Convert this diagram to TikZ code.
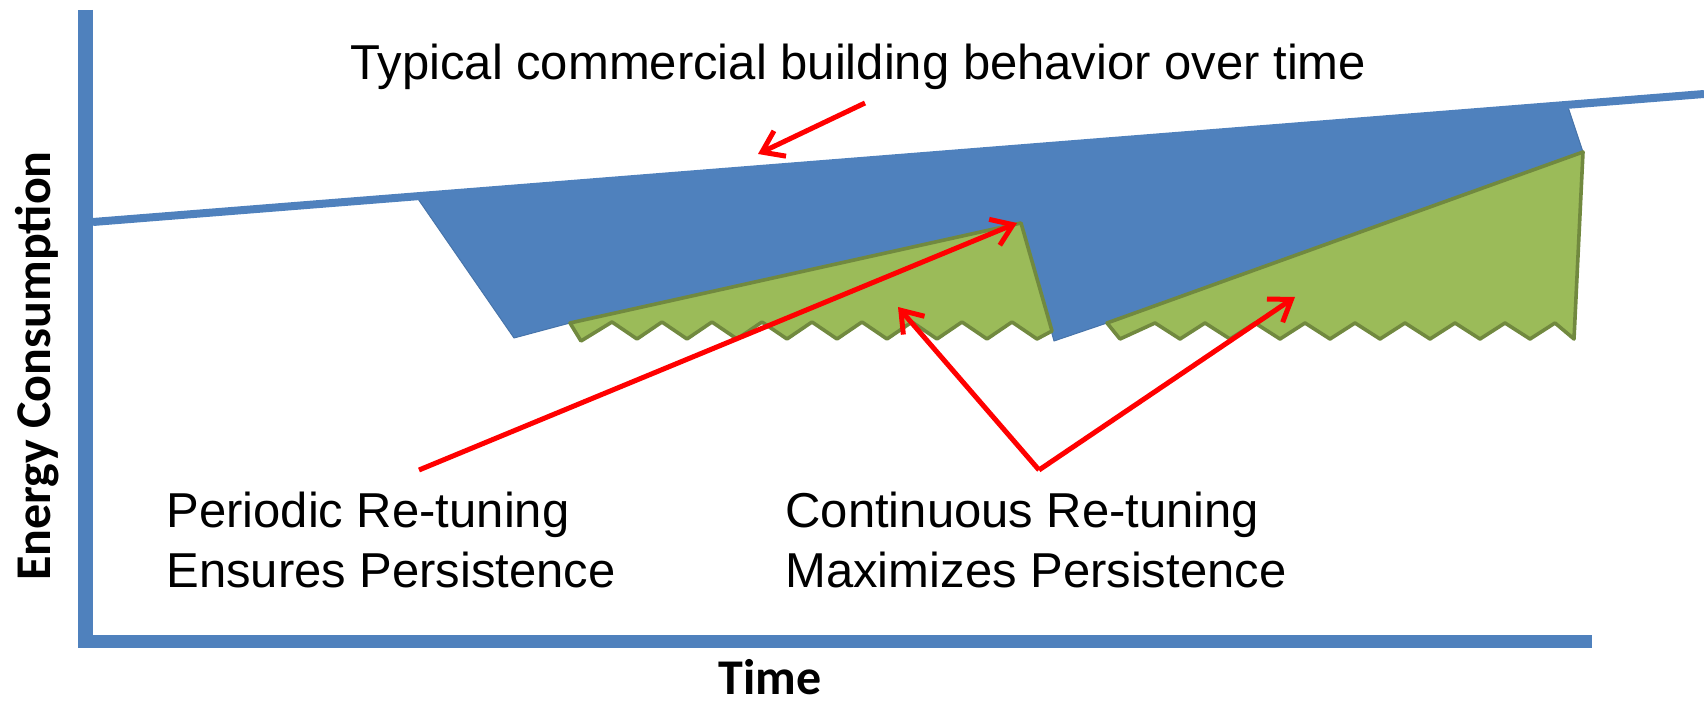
\documentclass[tikz,border=0pt]{standalone}
\usepackage{fontspec}
\setmainfont{Liberation Sans}
\newfontfamily\calfont{Carlito}
\usetikzlibrary{arrows.meta}
\definecolor{offblue}{HTML}{4F81BD}
\definecolor{offgreen}{HTML}{9BBB59}
\definecolor{offgreenline}{HTML}{71893F}

\begin{document}
\begin{tikzpicture}[x=0.5pt,y=-0.5pt,
  axisline/.style={offblue,line width=7.5pt},
  trendline/.style={offblue,line width=4pt},
  bluearea/.style={fill=offblue,draw=offblue!90!black,line width=0.5pt,line join=round},
  greenarea/.style={fill=offgreen,draw=offgreenline,line width=1.8pt,line join=round},
  redarrow/.style={red,line width=2.5pt,-{Straight Barb[length=10pt,width=14pt]}},
  caption/.style={inner sep=0pt,align=left,font=\fontsize{24.5}{30}\selectfont},
  axislabel/.style={inner sep=0pt,font=\calfont\bfseries\fontsize{25}{29}\selectfont}]
\useasboundingbox (0,0) rectangle (1704,705);
% savings areas
\draw [bluearea] (416,196) -- (1567,104) -- (1583,152) -- (1107,323) -- (1054,341)
  -- (1021,223) -- (570,323) -- (514,338) -- cycle;
\draw [greenarea] (570,323) -- (581,341)
  foreach \k in {0,...,8} { -- ({612+50*\k},322) -- ({637+50*\k},339) }
  -- (1052,331) -- (1021,223) -- cycle;
\draw [greenarea] (1107,323) -- (1120,339)
  foreach \k in {0,...,7} { -- ({1155+50*\k},323) -- ({1180+50*\k},339) }
  -- (1555,323) -- (1574,339) -- (1583,152) -- cycle;
\draw [trendline] (93,222) -- (1704,94);
% axes
\draw [axisline] (85.5,10) -- (85.5,643);
\draw [axisline,line width=6.5pt] (78,641.5) -- (1592,641.5);
% labels
\node [caption,anchor=base west] (typical) at (350,80) {Typical commercial building behavior over time};
\node [caption,anchor=base west] (periodic) at (166,588) {Periodic Re-tuning\\Ensures Persistence};
\node [caption,anchor=base west] (continuous) at (785,588) {Continuous Re-tuning\\Maximizes Persistence};
\node [axislabel,rotate=90,anchor=base] (energy) at (50,366) {Energy Consumption};
\node [axislabel,anchor=base] (time) at (770,694) {Time};
% arrows
\coordinate (typTail) at (865,103);
\coordinate (typTip) at (758,154);
\coordinate (perTail) at (419,470);
\coordinate (perTip) at (1017,223);
\coordinate (conTail) at (1039,470);
\coordinate (conTipA) at (898,307);
\coordinate (conTipB) at (1295,297);
\draw [redarrow] (typTail) -- (typTip);
\draw [redarrow] (perTail) -- (perTip);
\draw [redarrow] (conTail) -- (conTipA);
\draw [redarrow] (conTail) -- (conTipB);
\end{tikzpicture}
\end{document}
